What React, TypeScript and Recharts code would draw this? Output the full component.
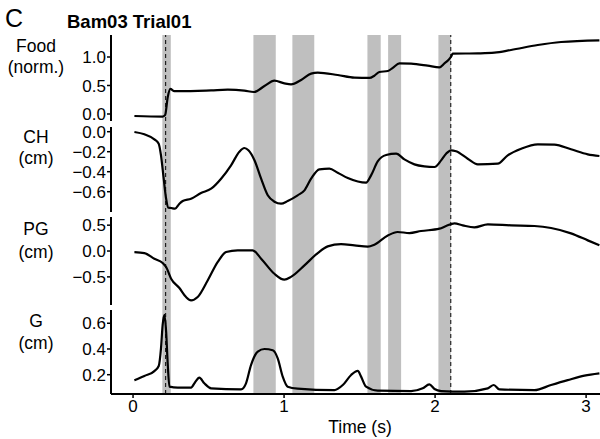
import React from 'react';
import { LineChart, Line, XAxis, YAxis, ReferenceArea, ReferenceLine, ComposedChart } from 'recharts';

// ---- shared x settings ----
const X_DOMAIN: [number, number] = [-0.146, 3.092];
const xTicks = [0, 1, 2, 3];

// grey event bands (s)
const bandStarts = [0.194, 0.797, 1.055, 1.552, 1.689, 2.022];
const bandEnds = [0.25, 0.945, 1.2, 1.64, 1.775, 2.104];
// dashed event markers (s)
const eventTimes = [0.216, 2.104];

// ---- Food (norm.) ----
const foodTime = [0.009, 0.196, 0.212, 0.23, 0.247, 0.274, 0.307, 0.517, 0.627, 0.737, 0.8, 0.87, 0.936, 1.002, 1.046, 1.113, 1.179, 1.223, 1.355, 1.466, 1.565, 1.598, 1.631, 1.687, 1.72, 1.764, 1.841, 1.951, 2.029, 2.062, 2.088, 2.106, 2.117, 2.283, 2.393, 2.503, 2.68, 2.834, 3.088];
const foodValue = [-0.035, -0.045, -0.02, 0.3, 0.44, 0.4, 0.4, 0.415, 0.427, 0.41, 0.386, 0.49, 0.585, 0.538, 0.52, 0.596, 0.708, 0.725, 0.684, 0.637, 0.632, 0.672, 0.737, 0.754, 0.81, 0.889, 0.883, 0.848, 0.819, 0.889, 0.947, 1.006, 1.058, 1.064, 1.076, 1.123, 1.21, 1.263, 1.292];

// ---- CH (cm) ----
const chTime = [0.009, 0.075, 0.141, 0.17, 0.185, 0.203, 0.219, 0.234, 0.252, 0.278, 0.307, 0.329, 0.384, 0.45, 0.517, 0.583, 0.649, 0.704, 0.737, 0.764, 0.804, 0.848, 0.892, 0.936, 0.98, 1.024, 1.09, 1.135, 1.179, 1.234, 1.3, 1.355, 1.422, 1.543, 1.576, 1.62, 1.676, 1.742, 1.797, 1.863, 1.929, 1.996, 2.04, 2.073, 2.106, 2.139, 2.216, 2.283, 2.415, 2.481, 2.57, 2.68, 2.79, 2.9, 3.011, 3.088];
const chValue = [-0.003, -0.026, -0.076, -0.12, -0.236, -0.47, -0.67, -0.76, -0.763, -0.77, -0.72, -0.693, -0.67, -0.613, -0.57, -0.47, -0.336, -0.2, -0.163, -0.186, -0.286, -0.47, -0.636, -0.7, -0.72, -0.693, -0.636, -0.587, -0.47, -0.376, -0.37, -0.41, -0.463, -0.51, -0.437, -0.297, -0.233, -0.22, -0.277, -0.327, -0.347, -0.353, -0.287, -0.22, -0.186, -0.196, -0.27, -0.327, -0.32, -0.236, -0.17, -0.126, -0.13, -0.176, -0.226, -0.243];

// ---- PG (cm) ----
const pgTime = [0.009, 0.075, 0.141, 0.196, 0.219, 0.252, 0.307, 0.351, 0.384, 0.428, 0.494, 0.561, 0.616, 0.693, 0.792, 0.848, 0.936, 1.002, 1.046, 1.135, 1.223, 1.289, 1.377, 1.466, 1.554, 1.598, 1.687, 1.752, 1.83, 1.907, 2.029, 2.073, 2.128, 2.183, 2.26, 2.349, 2.503, 2.658, 2.768, 2.9, 3.011, 3.088];
const pgValue = [-0.02, -0.04, -0.15, -0.23, -0.31, -0.535, -0.716, -0.89, -0.955, -0.89, -0.57, -0.21, -0.02, 0.013, 0.013, -0.148, -0.44, -0.555, -0.5, -0.277, -0.039, 0.09, 0.135, 0.11, 0.084, 0.123, 0.3, 0.368, 0.348, 0.387, 0.432, 0.484, 0.535, 0.497, 0.458, 0.516, 0.497, 0.484, 0.445, 0.342, 0.206, 0.11];

// ---- G (cm) ----
const gTime = [0.009, 0.075, 0.141, 0.17, 0.185, 0.196, 0.208, 0.219, 0.23, 0.241, 0.296, 0.384, 0.41, 0.439, 0.472, 0.517, 0.715, 0.748, 0.781, 0.826, 0.87, 0.925, 0.958, 0.991, 1.024, 1.09, 1.333, 1.389, 1.444, 1.488, 1.51, 1.543, 1.62, 1.841, 1.918, 1.962, 1.996, 2.04, 2.194, 2.349, 2.389, 2.426, 2.658, 2.768, 2.878, 2.989, 3.088];
const gValue = [0.156, 0.19, 0.228, 0.268, 0.405, 0.587, 0.665, 0.535, 0.275, 0.107, 0.1, 0.1, 0.14, 0.177, 0.133, 0.094, 0.086, 0.133, 0.275, 0.38, 0.4, 0.39, 0.327, 0.185, 0.107, 0.092, 0.08, 0.12, 0.198, 0.23, 0.185, 0.107, 0.076, 0.073, 0.094, 0.125, 0.089, 0.073, 0.068, 0.094, 0.12, 0.086, 0.08, 0.12, 0.158, 0.193, 0.211];

// tick labels
const foodTicks = [0, 0.5, 1.0];
const chTicks = [0, -0.2, -0.4, -0.6];
const pgTicks = [0.5, 0, -0.5];
const gTicks = [0.2, 0.4, 0.6];

const toRows = (t: number[], v: number[]) => t.map((x, i) => ({ t: x, v: v[i] }));
const fmt = (n: number) => {
  const s = Math.abs(n).toFixed(1);
  return n < -1e-9 ? '\u2212' + s : s;
};

// full-height helper rows for the band layer (just the time span)
const bandLayerRows = [{ t: X_DOMAIN[0], y: 0 }, { t: X_DOMAIN[1], y: 1 }];

const FONT = '"Liberation Sans", Arial, Helvetica, sans-serif';
const W = 600;
const H = 439;
const YW = 111;
const PAD = 12;
const TICK_FS = 17;

type Panel = {
  key: string;
  top: number;
  height: number;
  domain: [number, number];
  ticks: number[];
  rows: { t: number; v: number }[];
  label: [string, string];
  labelY: [number, number];
};

const panels: Panel[] = [
  { key: 'food', top: 35, height: 86, domain: [-0.123, 1.386], ticks: foodTicks, rows: toRows(foodTime, foodValue), label: ['Food', '(norm.)'], labelY: [52, 73] },
  { key: 'ch', top: 127, height: 85, domain: [-0.803, 0.047], ticks: chTicks, rows: toRows(chTime, chValue), label: ['CH', '(cm)'], labelY: [143, 164] },
  { key: 'pg', top: 217, height: 88, domain: [-1.044, 0.658], ticks: pgTicks, rows: toRows(pgTime, pgValue), label: ['PG', '(cm)'], labelY: [235, 258] },
  { key: 'g', top: 310, height: 84, domain: [0.05, 0.703], ticks: gTicks, rows: toRows(gTime, gValue), label: ['G', '(cm)'], labelY: [327, 349] },
];

const PLOT_TOP = 35;
const PLOT_BOTTOM = 394;

export default function App() {
  return (
    <div style={{ position: 'absolute', left: 0, top: 0, width: W, height: H, background: '#fff', fontFamily: FONT, overflow: 'hidden' }}>
      {/* background: bands, event lines, time axis */}
      <div style={{ position: 'absolute', left: 0, top: 0 }}>
        <ComposedChart width={W} height={H} data={bandLayerRows} margin={{ top: PLOT_TOP, right: 0, bottom: 0, left: YW }}>
          <XAxis
            type="number"
            dataKey="t"
            domain={X_DOMAIN}
            allowDataOverflow
            ticks={xTicks}
            interval={0}
            height={H - PLOT_BOTTOM}
            tickSize={4}
            tickMargin={2}
            tick={{ fill: '#000', fontSize: TICK_FS }}
            axisLine={{ stroke: '#000', strokeWidth: 2 }}
            tickLine={{ stroke: '#000', strokeWidth: 1.5 }}
          />
          <YAxis hide type="number" domain={[0, 1]} allowDataOverflow />
          <Line dataKey="y" stroke="none" dot={false} activeDot={false} isAnimationActive={false} legendType="none" />
          {bandStarts.map((s, i) => (
            <ReferenceArea key={'b' + i} x1={s} x2={bandEnds[i]} y1={0} y2={1} fill="#bfbfbf" fillOpacity={1} stroke="none" ifOverflow="visible" />
          ))}
          {eventTimes.map((e, i) => (
            <ReferenceLine key={'e' + i} x={e} stroke="#000" strokeWidth={1} strokeDasharray="4 3" ifOverflow="visible" />
          ))}
        </ComposedChart>
      </div>

      {panels.map((p) => (
        <div key={p.key} style={{ position: 'absolute', left: 0, top: p.top - PAD }}>
          <LineChart width={W} height={p.height + 2 * PAD} data={p.rows} margin={{ top: PAD, right: 0, bottom: PAD, left: 0 }}>
            <XAxis type="number" dataKey="t" domain={X_DOMAIN} allowDataOverflow hide height={0} />
            <YAxis
              type="number"
              domain={p.domain}
              allowDataOverflow
              ticks={p.ticks}
              interval={0}
              width={YW}
              tickSize={4}
              tickMargin={1}
              tickFormatter={fmt}
              tick={{ fill: '#000', fontSize: TICK_FS }}
              axisLine={{ stroke: '#000', strokeWidth: 2 }}
              tickLine={{ stroke: '#000', strokeWidth: 1.5 }}
            />
            <Line type="monotone" dataKey="v" stroke="#000" strokeWidth={2.2} dot={false} isAnimationActive={false} />
          </LineChart>
        </div>
      ))}

      {/* text overlay */}
      <svg width={W} height={H} style={{ position: 'absolute', left: 0, top: 0, pointerEvents: 'none' }}>
        <text x={5} y={27} fontSize={25} fill="#000">C</text>
        <text x={67} y={28} fontSize={18.5} fontWeight="bold" fill="#000">Bam03 Trial01</text>
        {panels.map((p) => (
          <g key={'l' + p.key}>
            <text x={36} y={p.labelY[0]} fontSize={17.5} textAnchor="middle" fill="#000">{p.label[0]}</text>
            <text x={36} y={p.labelY[1]} fontSize={17.5} textAnchor="middle" fill="#000">{p.label[1]}</text>
          </g>
        ))}
        <text x={360} y={433} fontSize={17.5} textAnchor="middle" fill="#000">Time (s)</text>
      </svg>
    </div>
  );
}
